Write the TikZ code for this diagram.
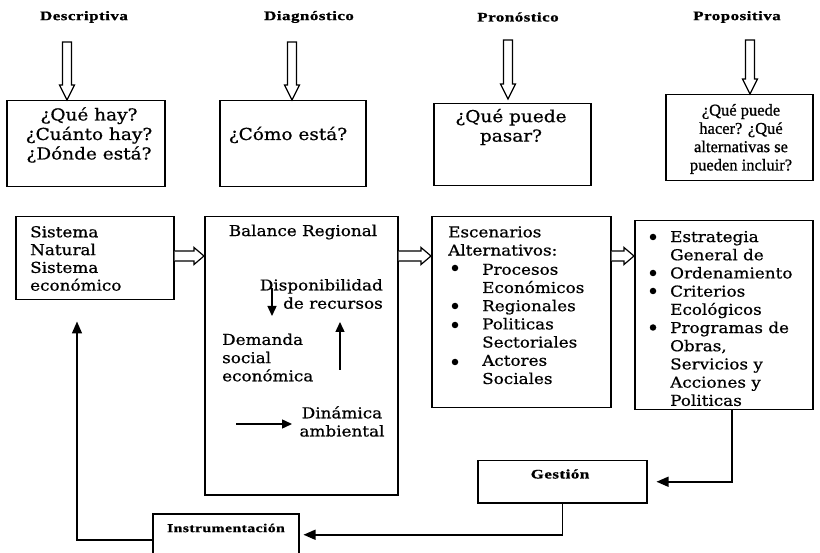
\documentclass[tikz,border=0pt]{standalone}
\usepackage{fontspec}
\usetikzlibrary{calc,arrows.meta}
\newfontfamily\bx{DejaVu Serif}[FakeStretch=1.12,FakeBold=0.7]
\newfontfamily\qf{Liberation Serif}[FakeBold=0.9]
\newfontfamily\hd{Liberation Serif Bold}[FakeStretch=1.3,LetterSpace=4,FakeBold=1.2]

\tikzset{
 box/.style={draw=black, line width=1.5pt, rectangle, inner sep=0pt, anchor=north west},
 hollow/.style={draw=black, line width=1.2pt, fill=white, line join=miter},
 arr/.style={draw=black, line width=1.4pt, -{Triangle[length=10pt,width=9pt]}},
 feed/.style={draw=black, line width=1.5pt, -{Triangle[length=12pt,width=10pt]}},
 btext/.style={font=\bx\fontsize{15}{18.2}\selectfont, inner sep=0pt, align=left},
 qtext/.style={font=\bx\fontsize{16.5}{19.5}\selectfont, inner sep=0pt, align=center},
 htext/.style={font=\hd\fontsize{13}{15}\selectfont, inner sep=0pt},
 bul/.style={circle, fill=black, inner sep=0pt, minimum size=6.5pt},
}
\newcommand\hollowH[2]{\draw[hollow] let \p1=#1, \p2=#2 in
  (\x1,\y1+5pt) -- (\x2-10pt,\y1+5pt) -- (\x2-10pt,\y1+8.5pt) -- (\x2,\y1)
  -- (\x2-10pt,\y1-8.5pt) -- (\x2-10pt,\y1-5pt) -- (\x1,\y1-5pt);}
\newcommand\hollowV[2]{\draw[hollow] let \p1=#1, \p2=#2 in
  (\x1-4.5pt,\y1) -- (\x1-4.5pt,\y2+15pt) -- (\x1-7.5pt,\y2+15pt) -- (\x1,\y2)
  -- (\x1+7.5pt,\y2+15pt) -- (\x1+4.5pt,\y2+15pt) -- (\x1+4.5pt,\y1) -- cycle;}

\begin{document}
\begin{tikzpicture}[x=1pt,y=-1pt]
\useasboundingbox (0,0) rectangle (820,553);
\clip (0,0) rectangle (820,553);
\fill[white] (0,0) rectangle (820,553);

% headers
\node[htext] (h1) at (84,17) {Descriptiva};
\node[htext] (h2) at (309,17) {Diagnóstico};
\node[htext] (h3) at (518,17) {Pronóstico};
\node[htext] (h4) at (737,17) {Propositiva};

% question boxes
\node[box, minimum width=158pt, minimum height=86pt] (q1) at (6,100) {};
\node[box, minimum width=146pt, minimum height=86pt] (q2) at (219,100) {};
\node[box, minimum width=157pt, minimum height=82pt] (q3) at (433,103) {};
\node[box, minimum width=147pt, minimum height=86pt] (q4) at (665,94) {};

\node[qtext] (q1t) at (89,135) {¿Qué hay?\\¿Cuánto hay?\\¿Dónde está?};
\node[qtext] (q2t) at (288,135) {¿Cómo está?};
\node[qtext] (q3t) at (511,127) {¿Qué puede\\pasar?};
\node[qtext, font=\qf\fontsize{16.5}{18.3}\selectfont] (q4t) at (741,139) {¿Qué puede\\hacer? ¿Qué\\alternativas se\\pueden incluir?};

% header arrows
\coordinate (v1) at (67,42);
\coordinate (v2) at (292,42);
\coordinate (v3) at (508,40);
\coordinate (v4) at (750,40);
\hollowV{(v1)}{(q1.north -| v1)}
\hollowV{(v2)}{(q2.north -| v2)}
\hollowV{(v3)}{([yshift=4pt]q3.north -| v3)}
\hollowV{(v4)}{(q4.north -| v4)}

% main boxes
\node[box, minimum width=158pt, minimum height=83pt] (A) at (15,216) {};
\node[box, minimum width=193pt, minimum height=278pt] (B) at (204,216) {};
\node[box, minimum width=179pt, minimum height=191pt] (C) at (431,216) {};

\node[btext, anchor=west, font=\bx\fontsize{15}{17.8}\selectfont] (At) at (30,258.5) {Sistema\\Natural\\Sistema\\económico};

\node[btext] (Bt) at (303,232) {Balance Regional};
\node[btext, anchor=east, align=right] (Bd) at (383,294) {Disponibilidad\\de recursos};
\node[btext, anchor=west] (Bs) at (222,357.5) {Demanda\\social\\económica};
\node[btext, align=center] (Ba) at (342,421.5) {Dinámica\\ambiental};
\coordinate (a1s) at (272,288); \coordinate (a1e) at (272,316);
\coordinate (a2s) at (340,370); \coordinate (a2e) at (340,322);
\coordinate (a3s) at (236,424); \coordinate (a3e) at (292,424);
\draw[arr] (a1s) -- (a1e);
\draw[arr] (a2s) -- (a2e);
\draw[arr] (a3s) -- (a3e);

\node[btext, anchor=west] (Ch) at (448,241) {Escenarios\\Alternativos:};
\node[btext, anchor=west] (Ci) at (482,324) {Procesos\\Económicos\\Regionales\\Politicas\\Sectoriales\\Actores\\Sociales};
\node[bul] (cb1) at (455,268) {};
\node[bul] (cb2) at (455,306) {};
\node[bul] (cb3) at (455,325) {};
\node[bul] (cb4) at (455,362) {};

\node[btext, anchor=west] (Dt) at (670,318.5) {Estrategia\\General de\\Ordenamiento\\Criterios\\Ecológicos\\Programas de\\Obras,\\Servicios y\\Acciones y\\Politicas};
\node[bul] (db1) at (653,237) {};
\node[bul] (db2) at (653,273) {};
\node[bul] (db3) at (653,291) {};
\node[bul] (db4) at (653,327.5) {};
\node[box, minimum width=178pt, minimum height=189pt] (D) at (634,220) {};

% hollow arrows between main boxes
\coordinate (hy) at (0,256);
\hollowH{(A.east |- hy)}{(B.west |- hy)}
\hollowH{(B.east |- hy)}{(C.west |- hy)}
\hollowH{(C.east |- hy)}{(D.west |- hy)}

% lower boxes
\node[box, minimum width=169pt, minimum height=42pt] (G) at (477,460) {};
\node[box, minimum width=146pt, minimum height=42pt] (I) at (152,513) {};
\node[htext] (Gt) at (560,474) {Gestión};
\node[htext, font=\hd\fontsize{12}{14}\selectfont] (It) at (226,528) {Instrumentación};

% feedback connectors
\coordinate (fx) at (732,0);
\coordinate (lx) at (77,0);
\draw[feed, shorten >=9pt] (D.south -| fx) |- (G.east);
\draw[feed, shorten >=4pt] (G.south) |- (I.east);
\draw[feed, shorten >=21pt] ([yshift=-5pt]I.west) -| (A.south -| lx);
\end{tikzpicture}
\end{document}
